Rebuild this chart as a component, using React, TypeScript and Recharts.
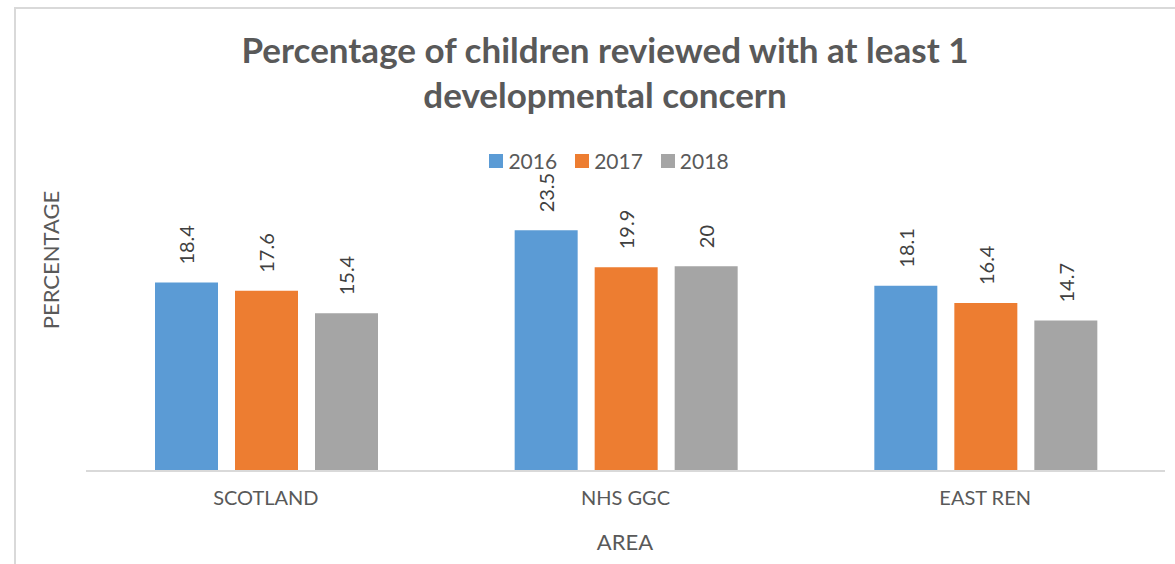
import React from "react";
import { Bar, BarChart, LabelList, XAxis, YAxis } from "recharts";

const areas = ["SCOTLAND", "NHS GGC", "EAST REN"];
const years = ["2016", "2017", "2018"];
const values2016 = [18.4, 23.5, 18.1];
const values2017 = [17.6, 19.9, 16.4];
const values2018 = [15.4, 20, 14.7];
const colors = ["#5B9BD5", "#ED7D31", "#A5A5A5"];

const data = areas.map((area, i) => ({
  area,
  "2016": values2016[i],
  "2017": values2017[i],
  "2018": values2018[i],
}));

const FONT = "Lato, 'Open Sans', sans-serif";
const TEXT = "#595959";

function RotatedLabel(props: any) {
  const { x, y, width, value } = props;
  const cx = x + width / 2;
  const ty = y - 18;
  return (
    <text
      x={cx}
      y={ty}
      transform={`rotate(-90, ${cx}, ${ty})`}
      textAnchor="start"
      dominantBaseline="central"
      fontSize={20}
      fontFamily={FONT}
      fill="#404040"
    >
      {value}
    </text>
  );
}

export default function App() {
  return (
    <div
      style={{
        position: "absolute",
        left: 0,
        top: 0,
        width: 1175,
        height: 564,
        overflow: "hidden",
        background: "#fff",
        fontFamily: FONT,
      }}
    >
      <div
        style={{
          position: "absolute",
          left: 14,
          top: 7,
          width: 1200,
          height: 620,
          border: "2px solid #d9d9d9",
          boxSizing: "border-box",
        }}
      />
      <div
        style={{
          position: "absolute",
          left: 205,
          width: 800,
          top: 27,
          textAlign: "center",
          fontWeight: 700,
          fontSize: 35,
          lineHeight: "45px",
          color: TEXT,
          whiteSpace: "nowrap",
        }}
      >
        Percentage of children reviewed with at least 1
        <br />
        developmental concern
      </div>
      <div
        style={{
          position: "absolute",
          left: 409,
          width: 400,
          top: 148,
          display: "flex",
          justifyContent: "center",
          gap: 18,
          fontSize: 21,
          color: TEXT,
          lineHeight: "26px",
        }}
      >
        {years.map((y, i) => (
          <div key={y} style={{ display: "flex", alignItems: "center", gap: 5 }}>
            <span style={{ width: 14, height: 14, background: colors[i], display: "inline-block" }} />
            <span>{y}</span>
          </div>
        ))}
      </div>
      <div
        style={{
          position: "absolute",
          left: 50,
          top: 260,
          transform: "translate(-50%, -50%) rotate(-90deg)",
          fontSize: 22,
          color: TEXT,
          whiteSpace: "nowrap",
        }}
      >
        PERCENTAGE
      </div>
      <div
        style={{
          position: "absolute",
          left: 625,
          top: 541,
          transform: "translate(-50%, -50%)",
          fontSize: 22,
          color: TEXT,
        }}
      >
        AREA
      </div>
      <div style={{ position: "absolute", left: 0, top: 0 }}>
        <BarChart
          width={1175}
          height={564}
          data={data}
          margin={{ left: 86, right: 10, top: 215, bottom: 53 }}
          barCategoryGap={69}
          barGap={17}
        >
          <XAxis
            dataKey="area"
            height={40}
            axisLine={{ stroke: "#d9d9d9", strokeWidth: 2 }}
            tickLine={false}
            tickSize={0}
            tickMargin={20}
            tick={{ fill: TEXT, fontSize: 20, fontFamily: FONT }}
          />
          <YAxis hide domain={[0, 25]} />
          {years.map((y, i) => (
            <Bar key={y} dataKey={y} fill={colors[i]} isAnimationActive={false}>
              <LabelList dataKey={y} content={<RotatedLabel />} />
            </Bar>
          ))}
        </BarChart>
      </div>
    </div>
  );
}
